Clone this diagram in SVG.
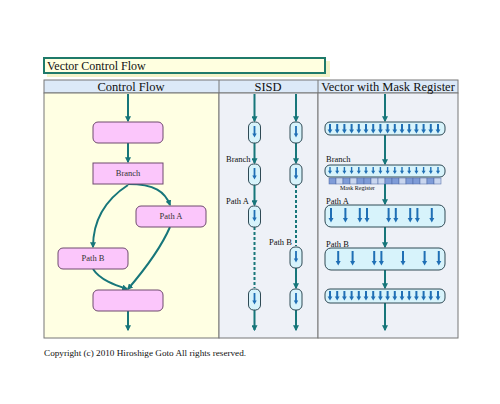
<svg xmlns="http://www.w3.org/2000/svg" width="500" height="404" viewBox="0 0 500 404">
<style>
.t{font-family:"Liberation Serif","Times New Roman",serif;fill:#111}
.h{font-size:12.5px;text-anchor:middle}
.s{font-size:8.5px}
.n{font-size:8.5px;text-anchor:middle;fill:#333}
.cf{fill:#fbc6fb;stroke:#6e4a6e;stroke-width:1}
.tl{fill:none;stroke:#17767a;stroke-width:2}
.dl{fill:none;stroke:#17767a;stroke-width:2;stroke-dasharray:3,2}
.cap{fill:#d7f3fb;stroke:#2f4a55;stroke-width:1}
.bl{stroke:#1f6fb5;fill:none}
.bh{fill:#1f6fb5}
.ma{fill:#7f9cd8;stroke:#4a64a0;stroke-width:0.5}
.mb{fill:#c9d6ef;stroke:#4a64a0;stroke-width:0.5}
</style>
<defs>
<marker id="ta" viewBox="0 0 10 10" refX="8" refY="5" markerWidth="3" markerHeight="3" orient="auto"><path d="M0,0 L10,5 L0,10 z" fill="#17767a"/></marker>
<g id="ab"><path class="bl" stroke-width="2" d="M0,0V6"/><path class="bh" d="M-2.4,5.5H2.4L0,9.5z"/></g>
<g id="as"><path class="bl" stroke-width="1.4" d="M0,0V4"/><path class="bh" d="M-2,3.8H2L0,7z"/></g>
<g id="at"><path class="bl" stroke-width="2" d="M0,0V10.5"/><path class="bh" d="M-2.5,10H2.5L0,14.5z"/></g>
<g id="aq"><path class="bl" stroke-width="1.8" d="M0,0V8"/><path class="bh" d="M-2.2,7.5H2.2L0,11.5z"/></g>
</defs>
<rect width="500" height="404" fill="#fff"/>
<g id="title">
<rect x="47" y="61" width="283" height="16" fill="#f3f3c8"/>
<rect x="44" y="58" width="281" height="15" fill="#ffffe0" stroke="#1f7a6a" stroke-width="2"/>
<text class="t" x="47" y="70" font-size="12">Vector Control Flow</text>
</g>
<g id="table">
<rect x="44" y="80" width="414" height="13" fill="#dce9f8" stroke="#777" stroke-width="1"/>
<rect x="44" y="93" width="175" height="245" fill="#ffffe3" stroke="#777" stroke-width="1"/>
<rect x="219" y="93" width="99" height="245" fill="#eef1f7" stroke="#777" stroke-width="1"/>
<rect x="318" y="93" width="140" height="245" fill="#eef1f7" stroke="#777" stroke-width="1"/>
<line x1="219" y1="80" x2="219" y2="93" stroke="#777"/>
<line x1="318" y1="80" x2="318" y2="93" stroke="#777"/>
<text class="t h" x="131" y="91">Control Flow</text>
<text class="t h" x="268" y="91">SISD</text>
<text class="t h" x="388" y="91">Vector with Mask Register</text>
</g>
<g id="connectors">
<path class="tl" d="M128,94 V121" marker-end="url(#ta)"/>
<path class="tl" d="M128,143 V162" marker-end="url(#ta)"/>
<path class="tl" d="M128,184 C155,184 165,192 170,205" marker-end="url(#ta)"/>
<path class="tl" d="M128,185 C105,200 93,220 93,247" marker-end="url(#ta)"/>
<path class="tl" d="M170,227 C160,250 140,275 128,289" marker-end="url(#ta)"/>
<path class="tl" d="M93,269 C100,280 115,285 127,289" marker-end="url(#ta)"/>
<path class="tl" d="M128,311 V330" marker-end="url(#ta)"/>
<path class="tl" d="M254.5,94 V121" marker-end="url(#ta)"/>
<path class="tl" d="M254.5,143 V163" marker-end="url(#ta)"/>
<path class="tl" d="M254.5,185 V205" marker-end="url(#ta)"/>
<path class="dl" d="M254.5,227 V288"/>
<path class="tl" d="M254.5,310 V330" marker-end="url(#ta)"/>
<path class="tl" d="M296,94 V121" marker-end="url(#ta)"/>
<path class="tl" d="M296,143 V163" marker-end="url(#ta)"/>
<path class="dl" d="M296,185 V246"/>
<path class="tl" d="M296,268 V288" marker-end="url(#ta)"/>
<path class="tl" d="M296,310 V330" marker-end="url(#ta)"/>
<path class="tl" d="M385,94 V121" marker-end="url(#ta)"/>
<path class="tl" d="M385,135 V164" marker-end="url(#ta)"/>
<path class="tl" d="M385,184 V204" marker-end="url(#ta)"/>
<path class="tl" d="M385,227 V247" marker-end="url(#ta)"/>
<path class="tl" d="M385,270 V288" marker-end="url(#ta)"/>
<path class="tl" d="M385,303 V330" marker-end="url(#ta)"/>
</g>
<g id="cf-top"><rect class="cf" x="93" y="122" width="70" height="21" rx="5"/></g>
<g id="cf-branch"><rect class="cf" x="93" y="163" width="70" height="21"/><text class="t n" x="128" y="176">Branch</text></g>
<g id="cf-patha"><rect class="cf" x="136" y="206" width="70" height="21" rx="5"/><text class="t n" x="171" y="219">Path A</text></g>
<g id="cf-pathb"><rect class="cf" x="58" y="248" width="70" height="21" rx="5"/><text class="t n" x="93" y="261">Path B</text></g>
<g id="cf-end"><rect class="cf" x="93" y="290" width="70" height="21" rx="5"/></g>
<g id="sisd">
<g id="s1a"><rect class="cap" x="248.5" y="122" width="12" height="21" rx="5"/><use href="#aq" x="254.5" y="126"/></g>
<g id="s1b"><rect class="cap" x="248.5" y="164" width="12" height="21" rx="5"/><use href="#aq" x="254.5" y="168"/></g>
<g id="s1c"><rect class="cap" x="248.5" y="206" width="12" height="21" rx="5"/><use href="#aq" x="254.5" y="210"/></g>
<g id="s1d"><rect class="cap" x="248.5" y="289" width="12" height="21" rx="5"/><use href="#aq" x="254.5" y="293"/></g>
<g id="s2a"><rect class="cap" x="290" y="122" width="12" height="21" rx="5"/><use href="#aq" x="296" y="126"/></g>
<g id="s2b"><rect class="cap" x="290" y="164" width="12" height="21" rx="5"/><use href="#aq" x="296" y="168"/></g>
<g id="s2c"><rect class="cap" x="290" y="247" width="12" height="21" rx="5"/><use href="#aq" x="296" y="251"/></g>
<g id="s2d"><rect class="cap" x="290" y="289" width="12" height="21" rx="5"/><use href="#aq" x="296" y="293"/></g>
<text class="t s" x="226" y="162">Branch</text>
<text class="t s" x="226" y="204">Path A</text>
<text class="t s" x="269" y="245">Path B</text>
</g>
<g id="vector">
<g id="v1"><rect class="cap" x="325" y="122" width="120" height="13" rx="5"/>
<use href="#ab" x="330" y="124"/><use href="#ab" x="337.2" y="124"/><use href="#ab" x="344.4" y="124"/><use href="#ab" x="351.6" y="124"/>
<use href="#ab" x="358.8" y="124"/><use href="#ab" x="366" y="124"/><use href="#ab" x="373.2" y="124"/><use href="#ab" x="380.4" y="124"/>
<use href="#ab" x="387.6" y="124"/><use href="#ab" x="394.8" y="124"/><use href="#ab" x="402" y="124"/><use href="#ab" x="409.2" y="124"/>
<use href="#ab" x="416.4" y="124"/><use href="#ab" x="423.6" y="124"/><use href="#ab" x="430.8" y="124"/><use href="#ab" x="438" y="124"/>
</g>
<g id="v2"><rect class="cap" x="325" y="165" width="120" height="12" rx="5"/>
<use href="#as" x="330" y="167"/><use href="#as" x="337.2" y="167"/><use href="#as" x="344.4" y="167"/><use href="#as" x="351.6" y="167"/>
<use href="#as" x="358.8" y="167"/><use href="#as" x="366" y="167"/><use href="#as" x="373.2" y="167"/><use href="#as" x="380.4" y="167"/>
<use href="#as" x="387.6" y="167"/><use href="#as" x="394.8" y="167"/><use href="#as" x="402" y="167"/><use href="#as" x="409.2" y="167"/>
<use href="#as" x="416.4" y="167"/><use href="#as" x="423.6" y="167"/><use href="#as" x="430.8" y="167"/><use href="#as" x="438" y="167"/>
</g>
<g id="mask">
<rect class="ma" x="329" y="178" width="7" height="6"/><rect class="mb" x="336" y="178" width="7" height="6"/>
<rect class="ma" x="343" y="178" width="7" height="6"/><rect class="mb" x="350" y="178" width="7" height="6"/>
<rect class="ma" x="357" y="178" width="7" height="6"/><rect class="ma" x="364" y="178" width="7" height="6"/>
<rect class="mb" x="371" y="178" width="7" height="6"/><rect class="mb" x="378" y="178" width="7" height="6"/>
<rect class="ma" x="385" y="178" width="7" height="6"/><rect class="ma" x="392" y="178" width="7" height="6"/>
<rect class="mb" x="399" y="178" width="7" height="6"/><rect class="ma" x="406" y="178" width="7" height="6"/>
<rect class="ma" x="413" y="178" width="7" height="6"/><rect class="mb" x="420" y="178" width="7" height="6"/>
<rect class="ma" x="427" y="178" width="7" height="6"/><rect class="mb" x="434" y="178" width="7" height="6"/>
<text class="t" x="340" y="189.5" font-size="6">Mask Register</text>
</g>
<g id="v3"><rect class="cap" x="325" y="205" width="120" height="22" rx="6"/>
<use href="#at" x="331" y="208"/><use href="#at" x="345.4" y="208"/><use href="#at" x="359.8" y="208"/><use href="#at" x="367" y="208"/>
<use href="#at" x="388.6" y="208"/><use href="#at" x="395.8" y="208"/><use href="#at" x="410.2" y="208"/><use href="#at" x="417.4" y="208"/>
<use href="#at" x="431.8" y="208"/>
</g>
<g id="v4"><rect class="cap" x="325" y="248" width="120" height="22" rx="6"/>
<use href="#at" x="338.2" y="251"/><use href="#at" x="352.6" y="251"/><use href="#at" x="374.2" y="251"/><use href="#at" x="381.4" y="251"/>
<use href="#at" x="403" y="251"/><use href="#at" x="424.6" y="251"/><use href="#at" x="438.8" y="251"/>
</g>
<g id="v5"><rect class="cap" x="325" y="289" width="120" height="14" rx="5"/>
<use href="#ab" x="330" y="291"/><use href="#ab" x="337.2" y="291"/><use href="#ab" x="344.4" y="291"/><use href="#ab" x="351.6" y="291"/>
<use href="#ab" x="358.8" y="291"/><use href="#ab" x="366" y="291"/><use href="#ab" x="373.2" y="291"/><use href="#ab" x="380.4" y="291"/>
<use href="#ab" x="387.6" y="291"/><use href="#ab" x="394.8" y="291"/><use href="#ab" x="402" y="291"/><use href="#ab" x="409.2" y="291"/>
<use href="#ab" x="416.4" y="291"/><use href="#ab" x="423.6" y="291"/><use href="#ab" x="430.8" y="291"/><use href="#ab" x="438" y="291"/>
</g>
<text class="t s" x="326" y="162">Branch</text>
<text class="t s" x="326" y="204">Path A</text>
<text class="t s" x="326" y="247">Path B</text>
</g>
<text class="t" x="44" y="356" font-size="9.2">Copyright (c) 2010 Hiroshige Goto All rights reserved.</text>
</svg>
